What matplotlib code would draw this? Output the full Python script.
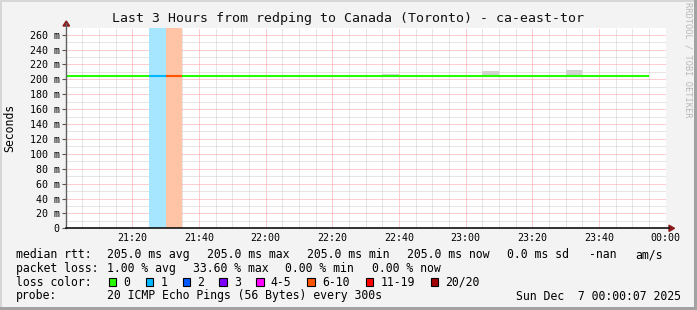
#dependencies
import numpy as np
import matplotlib
matplotlib.use("Agg")
import matplotlib.pyplot as plt
from matplotlib.lines import Line2D
from matplotlib.patches import Rectangle, Polygon
from matplotlib.ticker import MultipleLocator, FuncFormatter

#data: one 5-minute step each, minutes after 21:00
step_start = [0, 5, 10, 15, 20, 25, 30, 35, 40, 45, 50, 55,
              60, 65, 70, 75, 80, 85, 90, 95, 100, 105, 110, 115,
              120, 125, 130, 135, 140, 145, 150, 155, 160, 165, 170]
median_ms = [205.0, 205.0, 205.0, 205.0, 205.0, 205.0, 205.0, 205.0, 205.0, 205.0, 205.0, 205.0,
             205.0, 205.0, 205.0, 205.0, 205.0, 205.0, 205.0, 205.0, 205.0, 205.0, 205.0, 205.0,
             205.0, 205.0, 205.0, 205.0, 205.0, 205.0, 205.0, 205.0, 205.0, 205.0, 205.0]
loss_count = [0, 0, 0, 0, 0, 1, 6, 0, 0, 0, 0, 0,
              0, 0, 0, 0, 0, 0, 0, 0, 0, 0, 0, 0,
              0, 0, 0, 0, 0, 0, 0, 0, 0, 0, 0]
smoke_lo = [204.2, 204.2, 204.2, 204.2, 204.2, 204.2, 204.2, 204.2, 204.2, 204.2, 204.2, 204.2,
            204.2, 204.2, 204.2, 204.2, 204.2, 204.2, 204.2, 204.2, 204.2, 204.2, 204.2, 204.2,
            204.2, 204.2, 204.2, 204.2, 204.2, 204.2, 204.2, 204.2, 204.2, 204.2, 204.2]
smoke_hi = [205.5, 205.5, 205.5, 205.5, 205.5, 205.5, 205.5, 205.5, 205.5, 205.5, 205.5, 205.5,
            205.5, 205.5, 205.5, 205.5, 205.5, 205.5, 205.5, 206.8, 205.5, 205.5, 205.5, 205.5,
            205.5, 211.3, 205.5, 205.5, 205.5, 205.5, 212.6, 205.5, 205.5, 205.5, 205.5]

x_ticks = [20, 40, 60, 80, 100, 120, 140, 160, 180]
x_labels = ["21:20", "21:40", "22:00", "22:20", "22:40", "23:00", "23:20", "23:40", "00:00"]

loss_labels = ["0", "1", "2", "3", "4-5", "6-10", "11-19", "20/20"]
loss_colors = ["#26ff00", "#00b8ff", "#0059ff", "#7e00ff", "#ff00ff", "#ff5500", "#ff0000", "#a10000"]
loss_upper = [0, 1, 2, 3, 5, 10, 19, 20]

title = "Last 3 Hours from redping to Canada (Toronto) - ca-east-tor"
rtt_stats = ["205.0 ms avg", "205.0 ms max", "205.0 ms min", "205.0 ms now", "0.0 ms sd", "-nan", "am/s"]
loss_stats = ["1.00 % avg", "33.60 % max", "0.00 % min", "0.00 % now"]
probe_text = "20 ICMP Echo Pings (56 Bytes) every 300s"
stamp_text = "Sun Dec  7 00:00:07 2025"

#layout (pixels)
W, H = 697, 310
rtt_x = [107.3, 207.3, 307.3, 407.3, 507.3, 589.3, 635]
loss_x = [107.3, 193, 285, 372.3]
box_x = [108.7, 145.7, 182.7, 219.3, 256, 307.3, 365.7, 430.7]
line_y = [254.7, 268.3, 282.3, 296]

plt.rcParams["font.family"] = "DejaVu Sans Mono"


def color_index(n):
    for i, up in enumerate(loss_upper):
        if n <= up:
            return i
    return len(loss_upper) - 1


def blend(hexcol, a):
    c = np.array(matplotlib.colors.to_rgb(hexcol))
    return tuple(1 - a * (1 - c))


def fx(x):
    return x / W


def fy(y):
    return 1 - y / H


fig = plt.figure(figsize=(W / 100, H / 100), dpi=100, facecolor="#f3f3f3")
ax = fig.add_axes([66 / W, (H - 228.3) / H, 600 / W, 200 / H])
ax.set_facecolor("white")
ax.set_xlim(0.1, 180.1)
ax.set_ylim(0, 268.5)

#grid
ax.set_xticks(x_ticks, x_labels)
ax.xaxis.set_minor_locator(MultipleLocator(5))
ax.set_yticks(np.arange(0, 261, 20))
ax.yaxis.set_minor_locator(MultipleLocator(10))
ax.yaxis.set_major_formatter(FuncFormatter(lambda v, p: "0" if v == 0 else "%d m" % v))
ax.set_axisbelow(True)
ax.grid(which="minor", color="#cccccc", lw=0.72, ls=(0, (1, 1)))
ax.grid(which="major", color="#ff9c9c", lw=0.72, ls=(0, (1, 1)))
ax.tick_params(axis="x", which="both", length=0, pad=3.5, labelsize=7.2)
ax.tick_params(axis="y", which="major", length=3, width=0.8, color="#555555", pad=1.5, labelsize=7.2)
ax.tick_params(axis="y", which="minor", length=0)
for s in ax.spines.values():
    s.set_visible(False)

#loss bands and line segments
starts = np.array(step_start, dtype=float)
ends = starts + 5
seg_colors = []
for t, n in zip(starts, loss_count):
    ci = color_index(n)
    seg_colors.append(loss_colors[ci])
    if n > 0:
        ax.axvspan(t, t + 5, color=blend(loss_colors[ci], 0.35), lw=0, zorder=1)

#smoke
lo = np.array(smoke_lo)
hi = np.array(smoke_hi)
ax.bar(starts, hi - lo, bottom=lo, width=5, align="edge", color="#d2d2d2", lw=0, zorder=2)

#median
ax.hlines(median_ms, starts, ends, colors=seg_colors, lw=1.5, zorder=3)

#axes with arrows
fig.add_artist(Line2D([fx(66.3), fx(66.3)], [fy(228.3), fy(23)], color="#606060", lw=1.0))
fig.add_artist(Line2D([fx(66), fx(669)], [fy(228.3), fy(228.3)], color="#111111", lw=1.2))
fig.add_artist(Polygon([(fx(63), fy(26)), (fx(69.6), fy(26)), (fx(66.3), fy(21))],
                       closed=True, color="#8b1a1a", transform=fig.transFigure))
fig.add_artist(Polygon([(fx(669), fy(225.2)), (fx(669), fy(231.4)), (fx(674.5), fy(228.3))],
                       closed=True, color="#8b1a1a", transform=fig.transFigure))

#border shading
def fig_rect(x, y_top, w, h, color, edge="none", lw=0):
    r = Rectangle((fx(x), fy(y_top + h)), w / W, h / H, transform=fig.transFigure,
                  facecolor=color, edgecolor=edge, lw=lw)
    fig.add_artist(r)

fig_rect(0, 0, W, 2, "#d6d6d6")
fig_rect(0, 0, 2, H, "#d6d6d6")
fig_rect(0, 306.5, W, 3.5, "#a2a2a2")
fig_rect(693.5, 0, 3.5, H, "#a2a2a2")

#texts
fig.text(fx(348), fy(18.5), title, ha="center", va="center", fontsize=9.5, color="#111111")
fig.text(fx(10), fy(128), "Seconds", ha="center", va="center", rotation=90, fontsize=8.3)
fig.text(fx(688), fy(60), "RRDTOOL / TOBI OETIKER", ha="center", va="center", rotation=-90,
         fontsize=6.2, color="#b8b8b8")

fs = 8.3
fig.text(fx(16), fy(line_y[0]), "median rtt:", ha="left", va="center", fontsize=fs)
for x, s in zip(rtt_x, rtt_stats):
    fig.text(fx(x), fy(line_y[0]), s, ha="left", va="center", fontsize=fs)
fig.text(fx(16), fy(line_y[1]), "packet loss:", ha="left", va="center", fontsize=fs)
for x, s in zip(loss_x, loss_stats):
    fig.text(fx(x), fy(line_y[1]), s, ha="left", va="center", fontsize=fs)
fig.text(fx(16), fy(line_y[2]), "loss color:", ha="left", va="center", fontsize=fs)
for x, lab, col in zip(box_x, loss_labels, loss_colors):
    fig_rect(x, line_y[2] - 4, 7.5, 7.5, col, edge="black", lw=0.8)
    fig.text(fx(x + 14.7), fy(line_y[2]), lab, ha="left", va="center", fontsize=fs)
fig.text(fx(16), fy(line_y[3]), "probe:", ha="left", va="center", fontsize=fs)
fig.text(fx(107.3), fy(line_y[3]), probe_text, ha="left", va="center", fontsize=fs)
fig.text(fx(680.5), fy(line_y[3]), stamp_text, ha="right", va="center", fontsize=fs)

fig.savefig("out.png", dpi=100, facecolor=fig.get_facecolor())
